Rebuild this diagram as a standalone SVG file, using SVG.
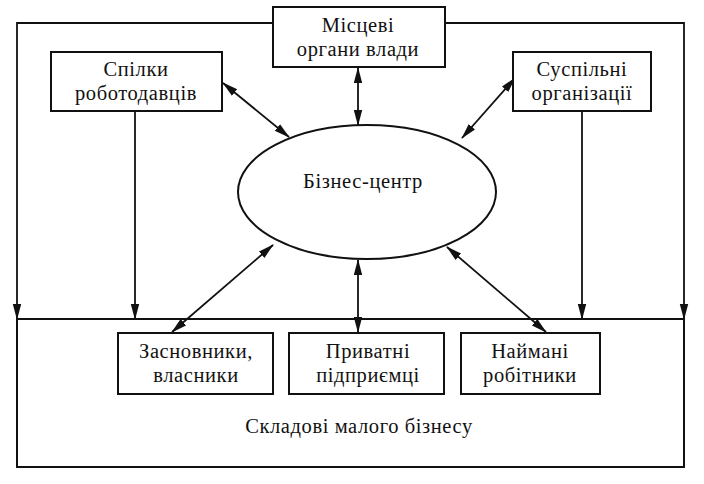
<svg xmlns="http://www.w3.org/2000/svg" width="704" height="484" viewBox="0 0 704 484">
<style>
.box{fill:#fff;stroke:#111;stroke-width:2}
.ln{fill:none;stroke:#111;stroke-width:1.8}
.t{font-family:"Liberation Serif","Times New Roman",serif;font-size:20.5px;letter-spacing:0.6px;fill:#111;text-anchor:middle}
</style>
<defs>
<marker id="ah" markerUnits="userSpaceOnUse" markerWidth="16" markerHeight="10" viewBox="0 0 16 10" refX="15" refY="5" orient="auto-start-reverse">
<path d="M0,0.8 L16,5 L0,9.2 Z" fill="#111"/>
</marker>
</defs>
<rect width="704" height="484" fill="#fff"/>
<g id="frame">
<rect class="box" x="17" y="319" width="667" height="148"/>
<text class="t" x="359" y="433">Складові малого бізнесу</text>
</g>
<g id="connectors">
<path class="ln" d="M273,23 H17 V319" marker-end="url(#ah)"/>
<path class="ln" d="M445,23 H684 V319" marker-end="url(#ah)"/>
<line class="ln" x1="135" y1="111" x2="135" y2="319" marker-end="url(#ah)"/>
<line class="ln" x1="582" y1="111" x2="582" y2="319" marker-end="url(#ah)"/>
<line class="ln" x1="358" y1="68" x2="358" y2="125" marker-start="url(#ah)" marker-end="url(#ah)"/>
<line class="ln" x1="223" y1="83" x2="289" y2="137" marker-start="url(#ah)" marker-end="url(#ah)"/>
<line class="ln" x1="515" y1="78" x2="462" y2="138" marker-start="url(#ah)" marker-end="url(#ah)"/>
<line class="ln" x1="273" y1="245" x2="172" y2="332" marker-start="url(#ah)" marker-end="url(#ah)"/>
<line class="ln" x1="358" y1="260" x2="358" y2="332" marker-start="url(#ah)" marker-end="url(#ah)"/>
<line class="ln" x1="447" y1="247" x2="546" y2="332" marker-start="url(#ah)" marker-end="url(#ah)"/>
</g>
<g id="mistsevi">
<rect class="box" x="273" y="7" width="172" height="60"/>
<text class="t" x="358" y="32">Місцеві</text>
<text class="t" x="358" y="56">органи влади</text>
</g>
<g id="spilky">
<rect class="box" x="51" y="52" width="171" height="59"/>
<text class="t" x="136" y="76">Спілки</text>
<text class="t" x="136" y="100">роботодавців</text>
</g>
<g id="suspilni">
<rect class="box" x="513" y="52" width="138" height="59"/>
<text class="t" x="582" y="76">Суспільні</text>
<text class="t" x="582" y="100">організації</text>
</g>
<g id="center">
<ellipse class="box" cx="367" cy="192" rx="129" ry="67"/>
<text class="t" x="363" y="188">Бізнес-центр</text>
</g>
<g id="zasnovnyky">
<rect class="box" x="118" y="333" width="155" height="61"/>
<text class="t" x="196" y="358">Засновники,</text>
<text class="t" x="196" y="382">власники</text>
</g>
<g id="pryvatni">
<rect class="box" x="289" y="333" width="155" height="61"/>
<text class="t" x="368" y="358">Приватні</text>
<text class="t" x="368" y="382">підприємці</text>
</g>
<g id="naimani">
<rect class="box" x="461" y="333" width="139" height="61"/>
<text class="t" x="530" y="358">Наймані</text>
<text class="t" x="530" y="382">робітники</text>
</g>
</svg>
